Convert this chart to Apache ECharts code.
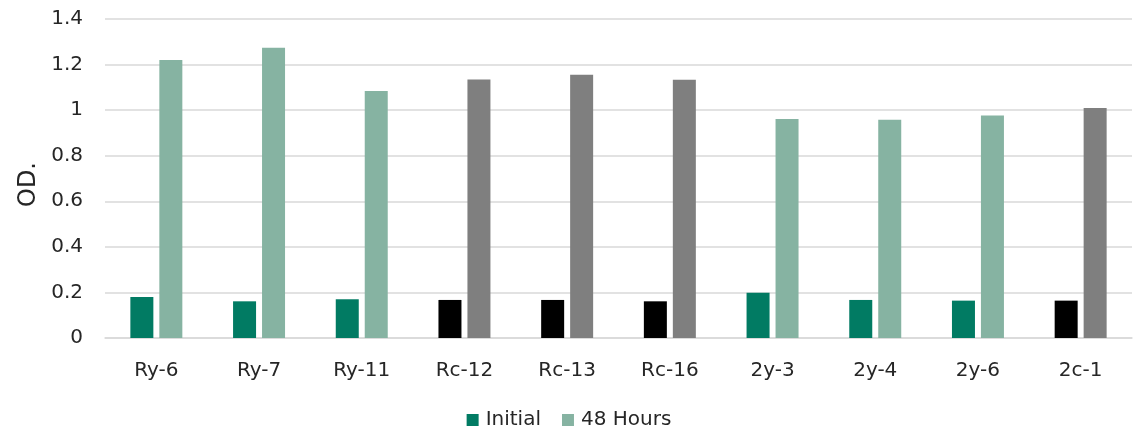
<!DOCTYPE html>
<html>
<head>
<meta charset="utf-8">
<script src="https://cdn.jsdelivr.net/npm/echarts@6/dist/echarts.min.js"></script>
<style>
  html, body { margin: 0; padding: 0; background: #fff; }
  #chart { width: 1138px; height: 430px; }
</style>
</head>
<body>
<div id="chart"></div>
<script>
// Strain samples along the x axis
const categories = ['Ry-6', 'Ry-7', 'Ry-11', 'Rc-12', 'Rc-13', 'Rc-16', '2y-3', '2y-4', '2y-6', '2c-1'];
// Optical density readings
const initialOD = [0.18, 0.161, 0.17, 0.167, 0.167, 0.161, 0.199, 0.167, 0.164, 0.164];
const hours48OD = [1.22, 1.274, 1.084, 1.135, 1.155, 1.133, 0.961, 0.958, 0.977, 1.009];
// Control samples drawn in greys instead of greens
const isControl = [false, false, false, true, true, true, false, false, false, true];
const yTicks = [0, 0.2, 0.4, 0.6, 0.8, 1, 1.2, 1.4];

const GREEN_DARK = '#017B63';
const GREEN_LIGHT = '#86B3A2';
const GREY_DARK = '#000000';
const GREY_LIGHT = '#7F7F7F';
const FONT = 'DejaVu Sans';
const TEXT = '#262626';

function colored(values, normal, control) {
  return values.map((v, i) => ({ value: v, itemStyle: { color: isControl[i] ? control : normal } }));
}

const chart = echarts.init(document.getElementById('chart'), null, { renderer: 'canvas' });
chart.setOption({
  animation: false,
  textStyle: { fontFamily: FONT },
  grid: { left: 105, right: 6, top: 19, bottom: 92, containLabel: false },
  legend: {
    top: 405,
    left: 'center',
    itemWidth: 12,
    itemHeight: 12,
    itemGap: 21,
    icon: 'rect',
    textStyle: { fontFamily: FONT, fontSize: 20, color: TEXT, padding: [0, 0, 0, 2] },
    data: [
      { name: 'Initial', itemStyle: { color: GREEN_DARK } },
      { name: '48 Hours', itemStyle: { color: GREEN_LIGHT } }
    ]
  },
  xAxis: {
    type: 'category',
    data: categories,
    axisTick: { show: false },
    axisLine: { lineStyle: { color: '#d9d9d9', width: 1.5 } },
    axisLabel: { fontFamily: FONT, fontSize: 20, color: TEXT, margin: 23 }
  },
  yAxis: {
    type: 'value',
    min: 0,
    max: yTicks[yTicks.length - 1],
    interval: 0.2,
    name: 'OD.',
    nameLocation: 'middle',
    nameGap: 64,
    nameTextStyle: { fontFamily: FONT, fontSize: 24, color: TEXT, padding: [0, 12, 0, 0] },
    axisLine: { show: false },
    axisTick: { show: false },
    splitLine: { lineStyle: { color: '#d9d9d9', width: 1.5 } },
    axisLabel: {
      fontFamily: FONT, fontSize: 20, color: TEXT, margin: 22,
      formatter: v => String(parseFloat(v.toFixed(1)))
    }
  },
  series: [
    {
      name: 'Initial',
      type: 'bar',
      barWidth: 23,
      barGap: '26%',
      itemStyle: { color: GREEN_DARK },
      data: colored(initialOD, GREEN_DARK, GREY_DARK)
    },
    {
      name: '48 Hours',
      type: 'bar',
      barWidth: 23,
      barGap: '26%',
      itemStyle: { color: GREEN_LIGHT },
      data: colored(hours48OD, GREEN_LIGHT, GREY_LIGHT)
    }
  ]
});
</script>
</body>
</html>
